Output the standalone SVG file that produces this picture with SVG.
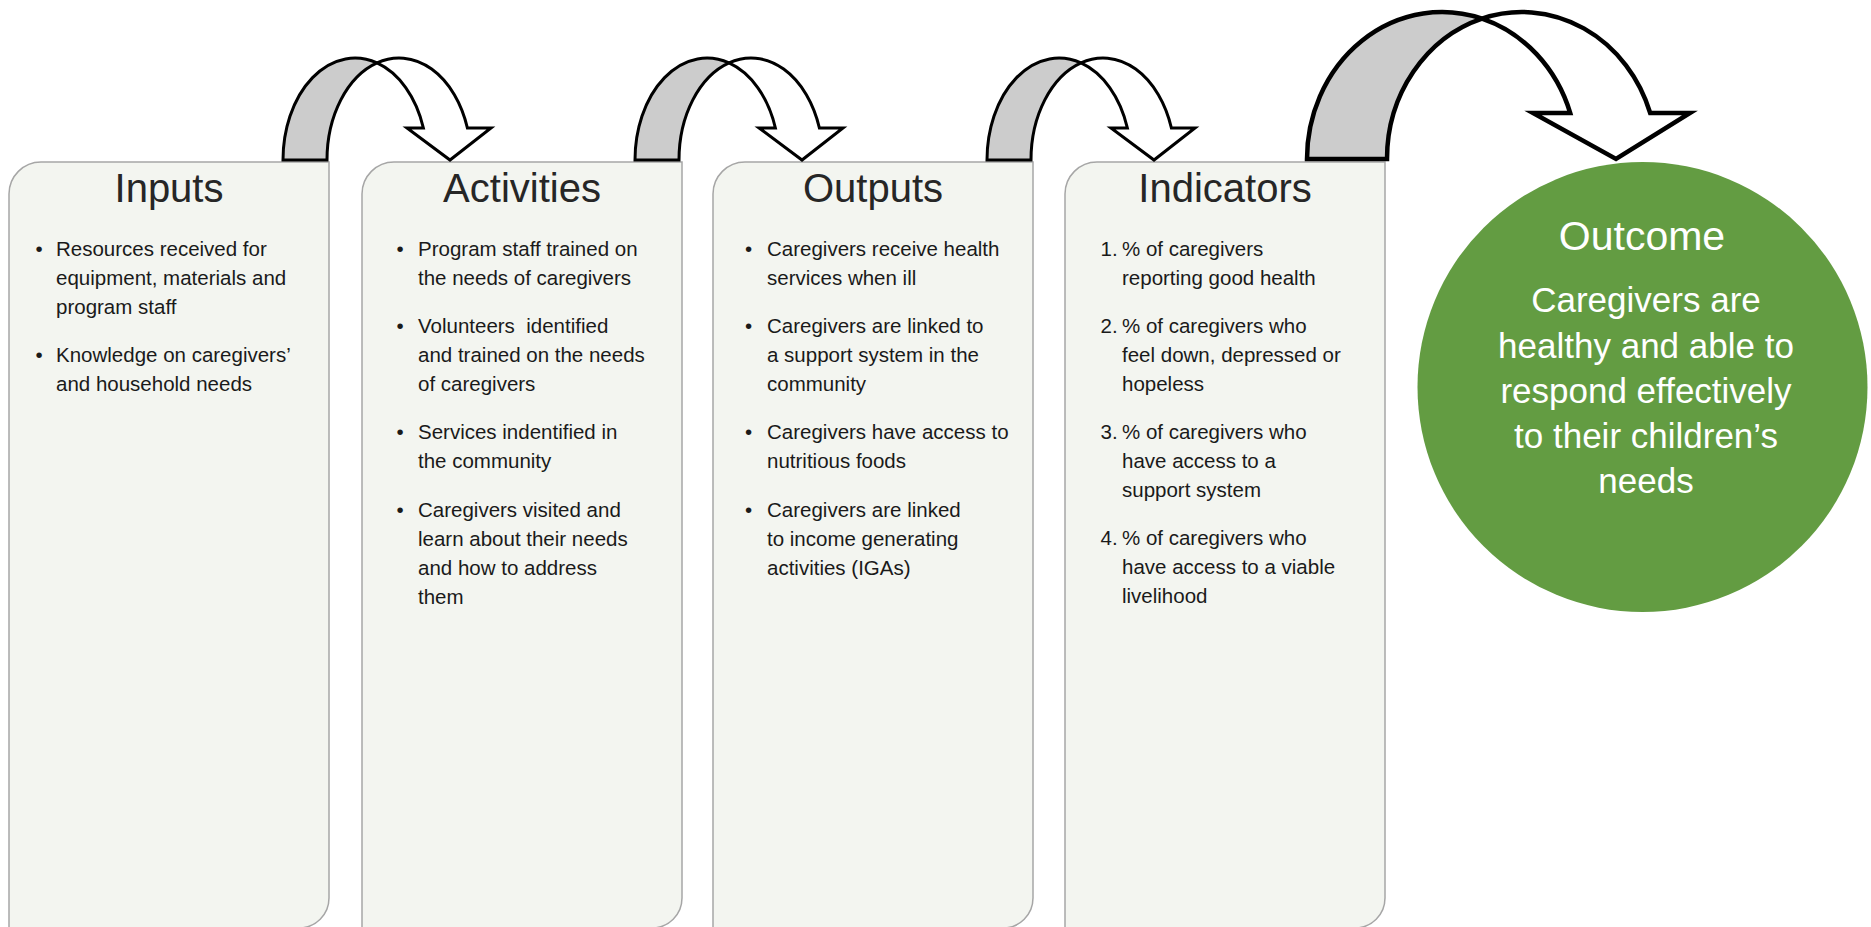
<svg xmlns="http://www.w3.org/2000/svg" xmlns:xlink="http://www.w3.org/1999/xlink" width="1871" height="927" viewBox="0 0 1871 927">
<style>
.box{fill:#f3f5f0;stroke:#a6a6a6;stroke-width:1.5}
.title{font-family:"Liberation Sans",Arial,sans-serif;font-size:40px;fill:#262626;text-anchor:middle}
.body{font-family:"Liberation Sans",Arial,sans-serif;font-size:20.5px;fill:#1a1a1a}
.back{fill:#cccccc;stroke:#000;stroke-width:3;stroke-linejoin:miter}
.front{fill:#ffffff;stroke:#000;stroke-width:3;stroke-linejoin:miter}
.bigback{fill:#cccccc;stroke:#000;stroke-width:4.5;stroke-linejoin:miter}
.bigfront{fill:#ffffff;stroke:#000;stroke-width:4.5;stroke-linejoin:miter}
.ctitle{font-family:"Liberation Sans",Arial,sans-serif;font-size:41px;fill:#ffffff;text-anchor:middle}
.cbody{font-family:"Liberation Sans",Arial,sans-serif;font-size:35px;fill:#ffffff;text-anchor:middle}
</style>
<defs>
<g id="smallArrow">
<path class="front" d="M 377,62.9 A 72,102 0 0 1 467.4,128 L 491,128 L 450,160 L 407,128 L 423.4,128 A 72,102 0 0 0 377,62.9 Z"/>
<path class="back" d="M 283,160 A 72,102 0 0 1 377,62.9 A 72,102 0 0 0 327,160 Z"/>
</g>
</defs>
<rect width="1871" height="927" fill="#ffffff"/>

<g id="inputs">
<path class="box" d="M 9,194 A 32,32 0 0 1 41,162 L 329,162 L 329,898 A 30,30 0 0 1 299,928 L 9,928 Z"/>
<text class="title" x="169" y="202">Inputs</text>
<text class="body"><tspan x="35.5" y="256">•</tspan><tspan x="56" y="256">Resources received for</tspan><tspan x="56" y="285">equipment, materials and</tspan><tspan x="56" y="314">program staff</tspan><tspan x="35.5" y="362">•</tspan><tspan x="56" y="362">Knowledge on caregivers’</tspan><tspan x="56" y="391">and household needs</tspan></text>
</g>

<g id="activities">
<path class="box" d="M 362,194 A 32,32 0 0 1 394,162 L 682,162 L 682,898 A 30,30 0 0 1 652,928 L 362,928 Z"/>
<text class="title" x="522" y="202">Activities</text>
<text class="body"><tspan x="396.5" y="256">•</tspan><tspan x="418" y="256">Program staff trained on</tspan><tspan x="418" y="285">the needs of caregivers</tspan><tspan x="396.5" y="333">•</tspan><tspan x="418" y="333" xml:space="preserve">Volunteers  identified</tspan><tspan x="418" y="362">and trained on the needs</tspan><tspan x="418" y="391">of caregivers</tspan><tspan x="396.5" y="439">•</tspan><tspan x="418" y="439">Services indentified in</tspan><tspan x="418" y="468">the community</tspan><tspan x="396.5" y="517">•</tspan><tspan x="418" y="517">Caregivers visited and</tspan><tspan x="418" y="546">learn about their needs</tspan><tspan x="418" y="575">and how to address</tspan><tspan x="418" y="604">them</tspan></text>
</g>

<g id="outputs">
<path class="box" d="M 713,194 A 32,32 0 0 1 745,162 L 1033,162 L 1033,898 A 30,30 0 0 1 1003,928 L 713,928 Z"/>
<text class="title" x="873" y="202">Outputs</text>
<text class="body"><tspan x="745" y="256">•</tspan><tspan x="767" y="256">Caregivers receive health</tspan><tspan x="767" y="285">services when ill</tspan><tspan x="745" y="333">•</tspan><tspan x="767" y="333">Caregivers are linked to</tspan><tspan x="767" y="362">a support system in the</tspan><tspan x="767" y="391">community</tspan><tspan x="745" y="439">•</tspan><tspan x="767" y="439">Caregivers have access to</tspan><tspan x="767" y="468">nutritious foods</tspan><tspan x="745" y="517">•</tspan><tspan x="767" y="517">Caregivers are linked</tspan><tspan x="767" y="546">to income generating</tspan><tspan x="767" y="575">activities (IGAs)</tspan></text>
</g>

<g id="indicators">
<path class="box" d="M 1065,194 A 32,32 0 0 1 1097,162 L 1385,162 L 1385,898 A 30,30 0 0 1 1355,928 L 1065,928 Z"/>
<text class="title" x="1225" y="202">Indicators</text>
<text class="body"><tspan x="1100.5" y="256">1.</tspan><tspan x="1122" y="256">% of caregivers</tspan><tspan x="1122" y="285">reporting good health</tspan><tspan x="1100.5" y="333">2.</tspan><tspan x="1122" y="333">% of caregivers who</tspan><tspan x="1122" y="362">feel down, depressed or</tspan><tspan x="1122" y="391">hopeless</tspan><tspan x="1100.5" y="439">3.</tspan><tspan x="1122" y="439">% of caregivers who</tspan><tspan x="1122" y="468">have access to a</tspan><tspan x="1122" y="497">support system</tspan><tspan x="1100.5" y="545">4.</tspan><tspan x="1122" y="545">% of caregivers who</tspan><tspan x="1122" y="574">have access to a viable</tspan><tspan x="1122" y="603">livelihood</tspan></text>
</g>

<g id="outcome">
<circle cx="1642.5" cy="387" r="225" fill="#639c42"/>
<text class="ctitle" x="1642" y="250">Outcome</text>
<text class="cbody"><tspan x="1646" y="312">Caregivers are</tspan><tspan x="1646" y="358">healthy and able to</tspan><tspan x="1646" y="403">respond effectively</tspan><tspan x="1646" y="448">to their children’s</tspan><tspan x="1646" y="493">needs</tspan></text>
</g>

<g id="connectors">
<use xlink:href="#smallArrow" href="#smallArrow"/>
<use xlink:href="#smallArrow" href="#smallArrow" transform="translate(352,0)"/>
<use xlink:href="#smallArrow" href="#smallArrow" transform="translate(704,0)"/>
<g id="bigArrow">
<path class="bigfront" d="M 1482,18.6 A 135,147 0 0 1 1650.2,113 L 1690,113 L 1616,159 L 1533,113 L 1570.2,113 A 135,147 0 0 0 1482,18.6 Z"/>
<path class="bigback" d="M 1307,159 A 135,147 0 0 1 1482,18.6 A 135,147 0 0 0 1387,159 Z"/>
</g>
</g>
</svg>
